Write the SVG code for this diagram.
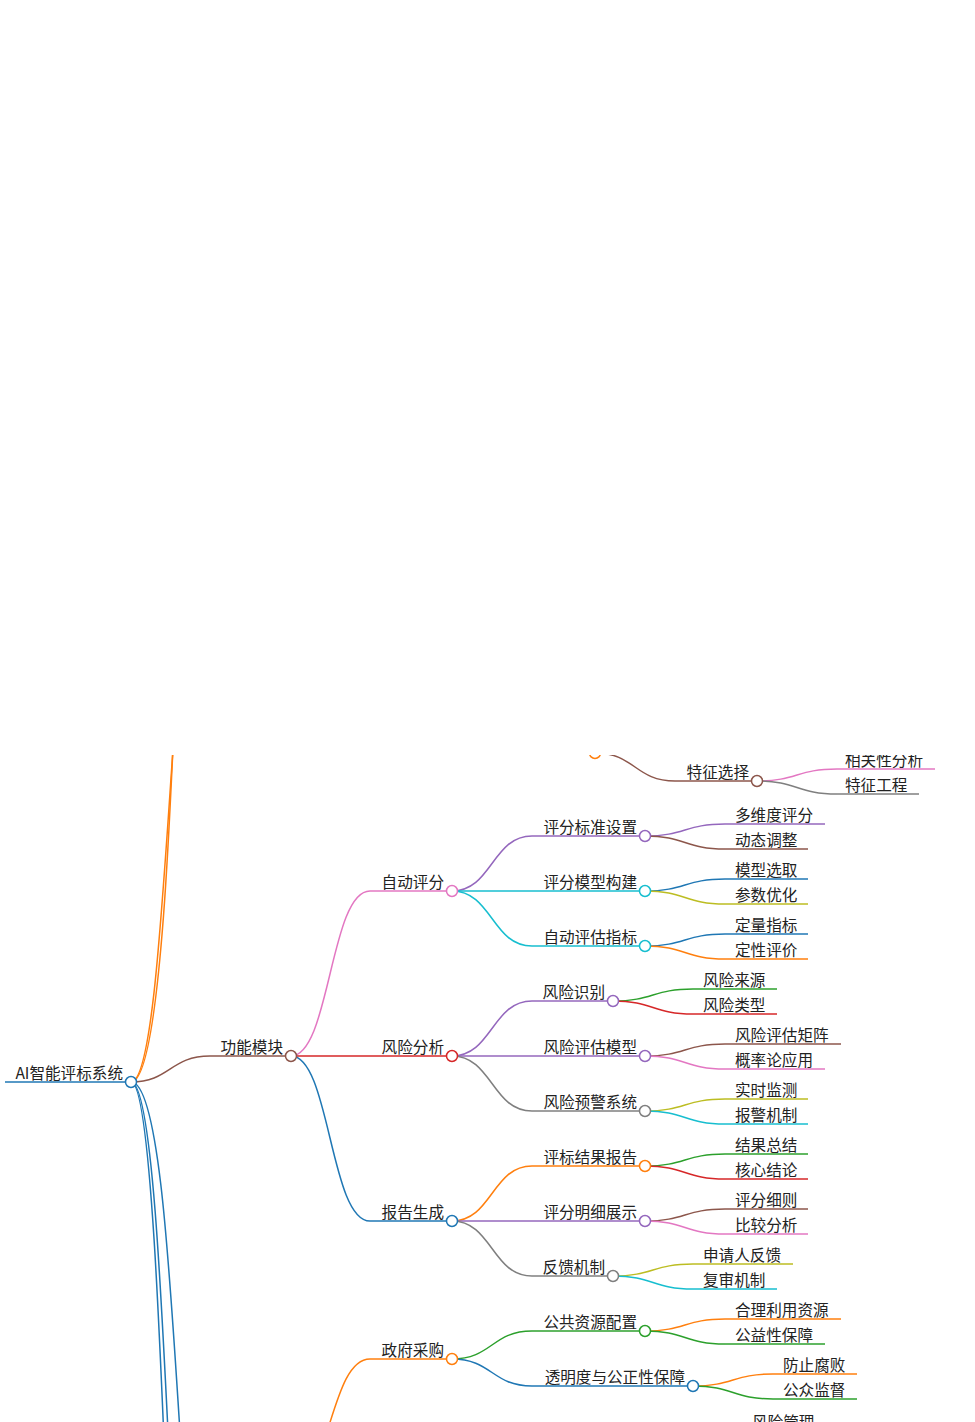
<svg xmlns="http://www.w3.org/2000/svg" width="975" height="1422" viewBox="0 0 975 1422">
<style>
text{font-family:"Noto Sans CJK SC","Liberation Sans",sans-serif;font-size:15.6px;fill:#222}
.e{text-anchor:end}
path{fill:none;stroke-width:1.5}
circle{fill:#fff;stroke-width:1.5}
</style>
<defs><clipPath id="c"><rect x="0" y="755" width="975" height="667"/></clipPath></defs>
<rect width="975" height="1422" fill="#fff"/>
<g clip-path="url(#c)">
<g id="connectors">
<path d="M131,1082 C170,1082 170,500 210,500" stroke="#ff7f0e"/>
<path d="M131,1082 C185,1082 175,200 210,200" stroke="#ff7f0e"/>
<path d="M131,1082 C170,1082 170,2100 210,2100" stroke="#1f77b4"/>
<path d="M131,1082 C172,1082 170,1900 210,1900" stroke="#1f77b4"/>
<path d="M131,1082 C180,1082 175,1650 210,1650" stroke="#1f77b4"/>
<path d="M291,1485 C330,1485 330,1359 370,1359" stroke="#ff7f0e"/>
<path d="M595,753 C635,753 635,781 675,781" stroke="#8c564b"/>
<path d="M757,781 C797,781 797,769 837,769" stroke="#e377c2"/>
<path d="M757,781 C797,781 797,794 837,794" stroke="#7f7f7f"/>
<path d="M131,1082 C170,1082 170,1056 210,1056" stroke="#8c564b"/>
<path d="M291,1056 C330,1056 330,891 370,891" stroke="#e377c2"/>
<path d="M291,1056 C330,1056 330,1056 370,1056" stroke="#d62728"/>
<path d="M291,1056 C330,1056 330,1221 370,1221" stroke="#1f77b4"/>
<path d="M452,891 C492,891 492,836 532,836" stroke="#9467bd"/>
<path d="M452,891 C492,891 492,891 532,891" stroke="#17becf"/>
<path d="M452,891 C492,891 492,946 532,946" stroke="#17becf"/>
<path d="M452,1056 C492,1056 492,1001 532,1001" stroke="#9467bd"/>
<path d="M452,1056 C492,1056 492,1056 532,1056" stroke="#9467bd"/>
<path d="M452,1056 C492,1056 492,1111 532,1111" stroke="#7f7f7f"/>
<path d="M452,1221 C492,1221 492,1166 532,1166" stroke="#ff7f0e"/>
<path d="M452,1221 C492,1221 492,1221 532,1221" stroke="#9467bd"/>
<path d="M452,1221 C492,1221 492,1276 532,1276" stroke="#7f7f7f"/>
<path d="M452,1359 C492,1359 492,1331 532,1331" stroke="#2ca02c"/>
<path d="M452,1359 C492,1359 492,1386 532,1386" stroke="#1f77b4"/>
<path d="M645,836 C685,836 685,824 725,824" stroke="#9467bd"/>
<path d="M645,836 C685,836 685,849 725,849" stroke="#8c564b"/>
<path d="M645,891 C685,891 685,879 725,879" stroke="#1f77b4"/>
<path d="M645,891 C685,891 685,904 725,904" stroke="#bcbd22"/>
<path d="M645,946 C685,946 685,934 725,934" stroke="#1f77b4"/>
<path d="M645,946 C685,946 685,959 725,959" stroke="#ff7f0e"/>
<path d="M613,1001 C653,1001 653,989 693,989" stroke="#2ca02c"/>
<path d="M613,1001 C653,1001 653,1014 693,1014" stroke="#d62728"/>
<path d="M645,1056 C685,1056 685,1044 725,1044" stroke="#8c564b"/>
<path d="M645,1056 C685,1056 685,1069 725,1069" stroke="#e377c2"/>
<path d="M645,1111 C685,1111 685,1099 725,1099" stroke="#bcbd22"/>
<path d="M645,1111 C685,1111 685,1124 725,1124" stroke="#17becf"/>
<path d="M645,1166 C685,1166 685,1154 725,1154" stroke="#2ca02c"/>
<path d="M645,1166 C685,1166 685,1179 725,1179" stroke="#d62728"/>
<path d="M645,1221 C685,1221 685,1209 725,1209" stroke="#8c564b"/>
<path d="M645,1221 C685,1221 685,1234 725,1234" stroke="#e377c2"/>
<path d="M613,1276 C653,1276 653,1264 693,1264" stroke="#bcbd22"/>
<path d="M613,1276 C653,1276 653,1289 693,1289" stroke="#17becf"/>
<path d="M645,1331 C685,1331 685,1319 725,1319" stroke="#ff7f0e"/>
<path d="M645,1331 C685,1331 685,1344 725,1344" stroke="#2ca02c"/>
<path d="M693,1386 C733,1386 733,1374 773,1374" stroke="#ff7f0e"/>
<path d="M693,1386 C733,1386 733,1399 773,1399" stroke="#2ca02c"/>
</g>
<g id="n-top"><circle cx="595" cy="753" r="5.5" stroke="#ff7f0e"/></g>
<g id="n-tzxz"><path d="M675,781H757" stroke="#8c564b"/><circle cx="757" cy="781" r="5.5" stroke="#8c564b"/><text x="749" y="778" class="e">特征选择</text></g>
<g id="n-xgx"><path d="M837,769H935" stroke="#e377c2"/><text x="845" y="766">相关性分析</text></g>
<g id="n-tzgc"><path d="M837,794H919" stroke="#7f7f7f"/><text x="845" y="791">特征工程</text></g>
<g id="n-root"><path d="M5,1082H131" stroke="#1f77b4" stroke-width="4"/><circle cx="131" cy="1082" r="5.5" stroke="#1f77b4"/><text x="123" y="1079" class="e">AI智能评标系统</text></g>
<g id="n-gnmk"><path d="M210,1056H291" stroke="#8c564b"/><circle cx="291" cy="1056" r="5.5" stroke="#8c564b"/><text x="283" y="1053" class="e">功能模块</text></g>
<g id="n-zdpf"><path d="M370,891H452" stroke="#e377c2"/><circle cx="452" cy="891" r="5.5" stroke="#e377c2"/><text x="444" y="888" class="e">自动评分</text></g>
<g id="n-fxfx"><path d="M370,1056H452" stroke="#d62728"/><circle cx="452" cy="1056" r="5.5" stroke="#d62728"/><text x="444" y="1053" class="e">风险分析</text></g>
<g id="n-bgsc"><path d="M370,1221H452" stroke="#1f77b4"/><circle cx="452" cy="1221" r="5.5" stroke="#1f77b4"/><text x="444" y="1218" class="e">报告生成</text></g>
<g id="n-zfcg"><path d="M370,1359H452" stroke="#ff7f0e"/><circle cx="452" cy="1359" r="5.5" stroke="#ff7f0e"/><text x="444" y="1356" class="e">政府采购</text></g>
<g id="n-pfbz"><path d="M532,836H645" stroke="#9467bd"/><circle cx="645" cy="836" r="5.5" stroke="#9467bd"/><text x="637" y="833" class="e">评分标准设置</text></g>
<g id="n-pfmx"><path d="M532,891H645" stroke="#17becf"/><circle cx="645" cy="891" r="5.5" stroke="#17becf"/><text x="637" y="888" class="e">评分模型构建</text></g>
<g id="n-zdpg"><path d="M532,946H645" stroke="#17becf"/><circle cx="645" cy="946" r="5.5" stroke="#17becf"/><text x="637" y="943" class="e">自动评估指标</text></g>
<g id="n-fxsb"><path d="M532,1001H613" stroke="#9467bd"/><circle cx="613" cy="1001" r="5.5" stroke="#9467bd"/><text x="605" y="998" class="e">风险识别</text></g>
<g id="n-fxpg"><path d="M532,1056H645" stroke="#9467bd"/><circle cx="645" cy="1056" r="5.5" stroke="#9467bd"/><text x="637" y="1053" class="e">风险评估模型</text></g>
<g id="n-fxyj"><path d="M532,1111H645" stroke="#7f7f7f"/><circle cx="645" cy="1111" r="5.5" stroke="#7f7f7f"/><text x="637" y="1108" class="e">风险预警系统</text></g>
<g id="n-pbjg"><path d="M532,1166H645" stroke="#ff7f0e"/><circle cx="645" cy="1166" r="5.5" stroke="#ff7f0e"/><text x="637" y="1163" class="e">评标结果报告</text></g>
<g id="n-pfmxzs"><path d="M532,1221H645" stroke="#9467bd"/><circle cx="645" cy="1221" r="5.5" stroke="#9467bd"/><text x="637" y="1218" class="e">评分明细展示</text></g>
<g id="n-fkjz"><path d="M532,1276H613" stroke="#7f7f7f"/><circle cx="613" cy="1276" r="5.5" stroke="#7f7f7f"/><text x="605" y="1273" class="e">反馈机制</text></g>
<g id="n-ggzy"><path d="M532,1331H645" stroke="#2ca02c"/><circle cx="645" cy="1331" r="5.5" stroke="#2ca02c"/><text x="637" y="1328" class="e">公共资源配置</text></g>
<g id="n-tmd"><path d="M532,1386H693" stroke="#1f77b4"/><circle cx="693" cy="1386" r="5.5" stroke="#1f77b4"/><text x="685" y="1383" class="e">透明度与公正性保障</text></g>
<g id="l1"><path d="M725,824H825" stroke="#9467bd"/><text x="735" y="821">多维度评分</text></g>
<g id="l2"><path d="M725,849H808" stroke="#8c564b"/><text x="735" y="846">动态调整</text></g>
<g id="l3"><path d="M725,879H808" stroke="#1f77b4"/><text x="735" y="876">模型选取</text></g>
<g id="l4"><path d="M725,904H808" stroke="#bcbd22"/><text x="735" y="901">参数优化</text></g>
<g id="l5"><path d="M725,934H808" stroke="#1f77b4"/><text x="735" y="931">定量指标</text></g>
<g id="l6"><path d="M725,959H808" stroke="#ff7f0e"/><text x="735" y="956">定性评价</text></g>
<g id="l7"><path d="M693,989H777" stroke="#2ca02c"/><text x="703" y="986">风险来源</text></g>
<g id="l8"><path d="M693,1014H777" stroke="#d62728"/><text x="703" y="1011">风险类型</text></g>
<g id="l9"><path d="M725,1044H841" stroke="#8c564b"/><text x="735" y="1041">风险评估矩阵</text></g>
<g id="l10"><path d="M725,1069H825" stroke="#e377c2"/><text x="735" y="1066">概率论应用</text></g>
<g id="l11"><path d="M725,1099H808" stroke="#bcbd22"/><text x="735" y="1096">实时监测</text></g>
<g id="l12"><path d="M725,1124H808" stroke="#17becf"/><text x="735" y="1121">报警机制</text></g>
<g id="l13"><path d="M725,1154H808" stroke="#2ca02c"/><text x="735" y="1151">结果总结</text></g>
<g id="l14"><path d="M725,1179H808" stroke="#d62728"/><text x="735" y="1176">核心结论</text></g>
<g id="l15"><path d="M725,1209H808" stroke="#8c564b"/><text x="735" y="1206">评分细则</text></g>
<g id="l16"><path d="M725,1234H808" stroke="#e377c2"/><text x="735" y="1231">比较分析</text></g>
<g id="l17"><path d="M693,1264H793" stroke="#bcbd22"/><text x="703" y="1261">申请人反馈</text></g>
<g id="l18"><path d="M693,1289H777" stroke="#17becf"/><text x="703" y="1286">复审机制</text></g>
<g id="l19"><path d="M725,1319H841" stroke="#ff7f0e"/><text x="735" y="1316">合理利用资源</text></g>
<g id="l20"><path d="M725,1344H825" stroke="#2ca02c"/><text x="735" y="1341">公益性保障</text></g>
<g id="l21"><path d="M773,1374H857" stroke="#ff7f0e"/><text x="783" y="1371">防止腐败</text></g>
<g id="l22"><path d="M773,1399H857" stroke="#2ca02c"/><text x="783" y="1396">公众监督</text></g>
<g id="n-fxgl"><text x="752" y="1428">风险管理</text></g>
</g>
</svg>
